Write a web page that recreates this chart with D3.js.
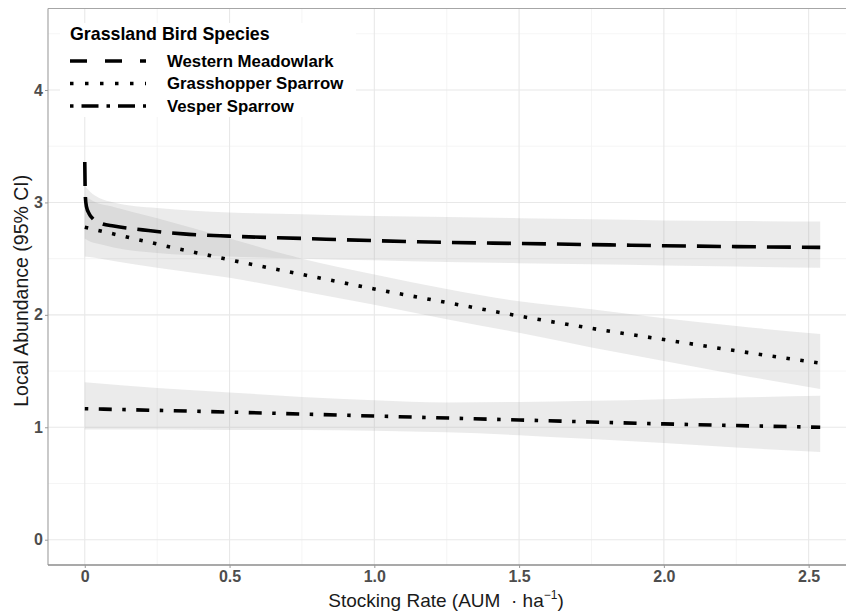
<!DOCTYPE html>
<html>
<head>
<meta charset="utf-8">
<script src="https://cdn.jsdelivr.net/npm/d3@7"></script>
<style>
  body { margin: 0; background: #fff; }
  text { font-family: "Liberation Sans", Arial, sans-serif; }
</style>
</head>
<body>
<svg id="chart" width="846" height="614"></svg>
<script>
// values
const xTicks = [0, 0.5, 1, 1.5, 2, 2.5];
const xTickLabels = ['0', '0.5', '1.0', '1.5', '2.0', '2.5'];
const xMinor = [0.25, 0.75, 1.25, 1.75, 2.25];
const yTicks = [0, 1, 2, 3, 4];
const yMinor = [0.5, 1.5, 2.5, 3.5, 4.5];

const species = ['Western Meadowlark', 'Grasshopper Sparrow', 'Vesper Sparrow'];

// Western Meadowlark
const wmX = [0, 0.002, 0.006, 0.015, 0.03, 0.06, 0.1, 0.22, 0.34, 0.5, 0.75, 1.0, 1.25, 1.5, 1.75, 2.0, 2.25, 2.54];
const wmFit = [3.36, 3.05, 2.96, 2.9, 2.85, 2.81, 2.79, 2.75, 2.72, 2.7, 2.68, 2.66, 2.645, 2.635, 2.625, 2.615, 2.607, 2.6];
const wmCiX = [0, 0.02, 0.05, 0.1, 0.25, 0.5, 0.75, 1.0, 1.25, 1.5, 1.75, 2.0, 2.25, 2.54];
const wmLower = [2.68, 2.65, 2.63, 2.6, 2.55, 2.52, 2.5, 2.485, 2.47, 2.46, 2.45, 2.44, 2.43, 2.42];
const wmUpper = [3.15, 3.09, 3.04, 3.0, 2.95, 2.91, 2.895, 2.88, 2.87, 2.86, 2.85, 2.84, 2.835, 2.83];

// Grasshopper Sparrow
const gsX = [0, 0.25, 0.5, 0.75, 1.0, 1.25, 1.5, 1.75, 2.0, 2.25, 2.54];
const gsFit = [2.78, 2.63, 2.49, 2.36, 2.23, 2.11, 1.99, 1.88, 1.78, 1.68, 1.57];
const gsCiX = [0, 0.03, 0.1, 0.25, 0.5, 0.75, 1.0, 1.25, 1.5, 1.75, 2.0, 2.25, 2.54];
const gsLower = [2.52, 2.51, 2.48, 2.42, 2.33, 2.21, 2.09, 1.96, 1.84, 1.71, 1.59, 1.47, 1.34];
const gsUpper = [3.06, 3.01, 2.96, 2.86, 2.68, 2.5, 2.36, 2.23, 2.12, 2.05, 1.97, 1.9, 1.83];

// Vesper Sparrow
const vsX = [0, 0.5, 1.0, 1.5, 2.0, 2.54];
const vsFit = [1.165, 1.135, 1.1, 1.065, 1.03, 1.0];
const vsCiX = [0, 0.25, 0.5, 0.75, 1.0, 1.25, 1.5, 1.75, 2.0, 2.25, 2.54];
const vsLower = [0.98, 0.98, 0.975, 0.975, 0.97, 0.955, 0.93, 0.895, 0.86, 0.82, 0.78];
const vsUpper = [1.4, 1.35, 1.31, 1.27, 1.24, 1.22, 1.225, 1.235, 1.25, 1.265, 1.28];

const svg = d3.select('#chart');
const width = 846, height = 614;
const panel = { left: 48, right: 857, top: 8.5, bottom: 565 };

const x = d3.scaleLinear().domain([-0.127, 2.667]).range([panel.left, panel.right]);
const y = d3.scaleLinear().domain([-0.225, 4.725]).range([panel.bottom, panel.top]);

svg.append('rect').attr('width', width).attr('height', height).attr('fill', '#fff');

const plot = svg.append('g');

// grid
plot.selectAll('line.xminor').data(xMinor).enter().append('line')
    .attr('x1', d => x(d)).attr('x2', d => x(d))
    .attr('y1', panel.top).attr('y2', panel.bottom)
    .attr('stroke', '#f2f2f2').attr('stroke-width', 0.8);
plot.selectAll('line.yminor').data(yMinor).enter().append('line')
    .attr('y1', d => y(d)).attr('y2', d => y(d))
    .attr('x1', panel.left).attr('x2', panel.right)
    .attr('stroke', '#f2f2f2').attr('stroke-width', 0.8);
plot.selectAll('line.xmajor').data(xTicks).enter().append('line')
    .attr('x1', d => x(d)).attr('x2', d => x(d))
    .attr('y1', panel.top).attr('y2', panel.bottom)
    .attr('stroke', '#e8e8e8').attr('stroke-width', 1.1);
plot.selectAll('line.ymajor').data(yTicks).enter().append('line')
    .attr('y1', d => y(d)).attr('y2', d => y(d))
    .attr('x1', panel.left).attr('x2', panel.right)
    .attr('stroke', '#e8e8e8').attr('stroke-width', 1.1);

// confidence ribbons
const area = d3.area()
    .x(d => x(d[0]))
    .y0(d => y(d[1]))
    .y1(d => y(d[2]))
    .curve(d3.curveMonotoneX);

const ribbons = [
    d3.zip(wmCiX, wmLower, wmUpper),
    d3.zip(gsCiX, gsLower, gsUpper),
    d3.zip(vsCiX, vsLower, vsUpper)
];
plot.selectAll('path.ribbon').data(ribbons).enter().append('path')
    .attr('class', 'ribbon')
    .attr('d', area)
    .attr('fill', '#999')
    .attr('fill-opacity', 0.2);

// fitted lines
const line = d3.line()
    .x(d => x(d[0]))
    .y(d => y(d[1]))
    .curve(d3.curveMonotoneX);

const dashes = ['24,11', '3.5,10.5', '3.5,10.5,13,10.5'];
const fits = [d3.zip(wmX, wmFit), d3.zip(gsX, gsFit), d3.zip(vsX, vsFit)];

plot.selectAll('path.fit').data(fits).enter().append('path')
    .attr('class', 'fit')
    .attr('d', line)
    .attr('fill', 'none')
    .attr('stroke', '#000')
    .attr('stroke-width', 3.6)
    .attr('stroke-dasharray', (d, i) => dashes[i]);

// panel border
svg.append('line').attr('x1', panel.left).attr('x2', panel.left)
    .attr('y1', panel.top).attr('y2', panel.bottom)
    .attr('stroke', '#a6a6a6').attr('stroke-width', 1.2);
svg.append('line').attr('x1', panel.left).attr('x2', panel.right)
    .attr('y1', panel.top).attr('y2', panel.top)
    .attr('stroke', '#a6a6a6').attr('stroke-width', 1.2);
svg.append('line').attr('x1', panel.left).attr('x2', panel.right)
    .attr('y1', panel.bottom).attr('y2', panel.bottom)
    .attr('stroke', '#8c8c8c').attr('stroke-width', 1.6);

// axes
const xAxis = svg.append('g')
    .attr('transform', `translate(0,${panel.bottom})`)
    .call(d3.axisBottom(x).tickValues(xTicks).tickFormat((d, i) => xTickLabels[i]).tickSize(3).tickPadding(3));
const yAxis = svg.append('g')
    .attr('transform', `translate(${panel.left},0)`)
    .call(d3.axisLeft(y).tickValues(yTicks).tickFormat(d => d).tickSize(3).tickPadding(2));

[xAxis, yAxis].forEach(ax => {
    ax.select('.domain').remove();
    ax.selectAll('.tick line').attr('stroke', '#999');
    ax.selectAll('.tick text')
        .attr('fill', '#4d4d4d')
        .style('font-size', '16px')
        .style('font-weight', 'bold')
        .style('font-family', '"Liberation Sans", Arial, sans-serif');
});

// axis titles
const xTitle = svg.append('text')
    .attr('x', 446).attr('y', 607)
    .attr('text-anchor', 'middle')
    .attr('fill', '#1a1a1a')
    .style('font-size', '19px');
xTitle.append('tspan').text('Stocking Rate (AUM \u00a0\u00b7 ha');
xTitle.append('tspan').attr('dy', -8).style('font-size', '12px').text('\u22121');
xTitle.append('tspan').attr('dy', 8).text(')');

svg.append('text')
    .attr('transform', `translate(28,${(panel.top + panel.bottom) / 2 + 4}) rotate(-90)`)
    .attr('text-anchor', 'middle')
    .attr('fill', '#1a1a1a')
    .style('font-size', '19.5px')
    .text('Local Abundance (95% CI)');

// legend
const legend = svg.append('g');
legend.append('rect')
    .attr('x', 60).attr('y', 23).attr('width', 296).attr('height', 94)
    .attr('fill', '#fff');
legend.append('text')
    .attr('x', 70).attr('y', 40)
    .attr('fill', '#000')
    .style('font-size', '17.8px')
    .style('font-weight', 'bold')
    .text('Grassland Bird Species');

const legendDashes = ['17,18', '3.5,11.5', '3.5,8,17,8'];
species.forEach((name, i) => {
    const ky = 61 + i * 22.5;
    legend.append('line')
        .attr('x1', 70).attr('x2', 146)
        .attr('y1', ky).attr('y2', ky)
        .attr('stroke', '#000')
        .attr('stroke-width', 3.4)
        .attr('stroke-dasharray', legendDashes[i]);
    legend.append('text')
        .attr('x', 167).attr('y', ky + 5.8)
        .attr('fill', '#000')
        .style('font-size', '16.8px')
        .style('font-weight', 'bold')
        .text(name);
});
</script>
</body>
</html>
